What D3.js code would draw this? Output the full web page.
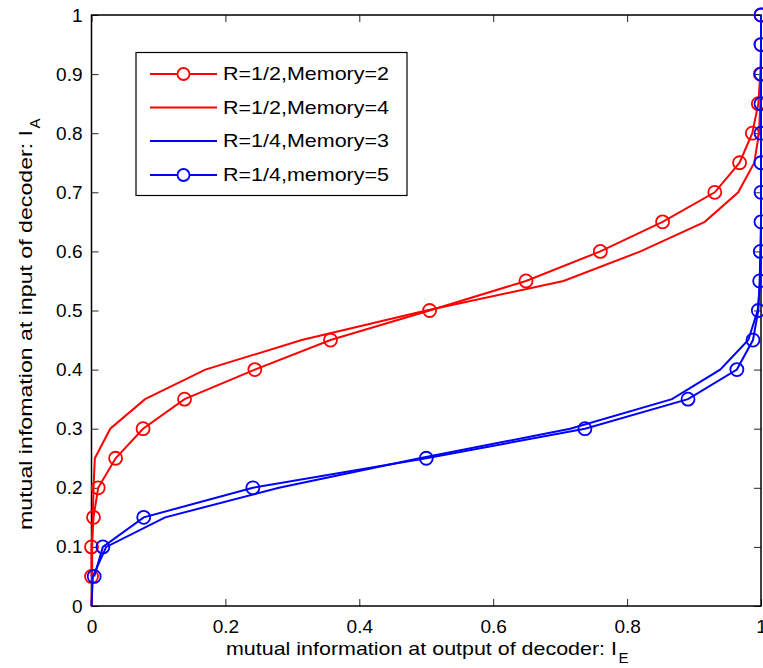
<!DOCTYPE html>
<html>
<head>
<meta charset="utf-8">
<script src="https://cdn.jsdelivr.net/npm/d3@7/dist/d3.min.js"></script>
<style>
  html, body { margin: 0; padding: 0; background: #fff; }
  svg text { font-family: "Liberation Sans", Arial, Helvetica, sans-serif; fill: #000; }
</style>
</head>
<body>
<svg id="chart" width="763" height="668"></svg>
<script>
// EXIT-chart transfer curves: a priori input I_A vs extrinsic output I_E

// input mutual information levels
const iaFull = [0, 0.05, 0.1, 0.15, 0.2, 0.25, 0.3, 0.35, 0.4, 0.45, 0.5,
                0.55, 0.6, 0.65, 0.7, 0.75, 0.8, 0.85, 0.9, 0.95, 1.0];
const iaFrom05 = iaFull.slice(1);

// R=1/2, Memory=2 (circles)
const ieR2M2 = [0.0, 0.0, 0.003, 0.010, 0.036, 0.077, 0.139, 0.244, 0.357, 0.505,
                0.649, 0.760, 0.853, 0.931, 0.968, 0.987, 0.996, 0.999, 1.0, 1.0];
// R=1/2, Memory=4
const ieR2M4 = [0, 0.001, 0.001, 0.002, 0.003, 0.005, 0.028, 0.080, 0.170, 0.314, 0.500,
                0.705, 0.820, 0.916, 0.966, 0.990, 0.997, 0.999, 1.0, 1.0, 1.0];
// R=1/4, Memory=3
const ieR4M3 = [0, 0.002, 0.022, 0.110, 0.280, 0.490, 0.715, 0.867, 0.939, 0.981, 0.995,
                0.999, 1.0, 1.0, 1.0, 1.0, 1.0, 1.0, 1.0, 1.0, 1.0];
// R=1/4, memory=5 (circles)
const ieR4M5 = [0.004, 0.017, 0.078, 0.241, 0.500, 0.737, 0.891, 0.964, 0.988, 0.996,
                0.998, 0.999, 1.0, 1.0, 1.0, 1.0, 1.0, 1.0, 1.0, 1.0];

const seriesNames = ["R=1/2,Memory=2", "R=1/2,Memory=4", "R=1/4,Memory=3", "R=1/4,memory=5"];
const seriesColors = ["#ff0000", "#ff0000", "#0000ff", "#0000ff"];
const seriesMarkers = [true, false, false, true];

const xTicks = [0, 0.2, 0.4, 0.6, 0.8, 1];
const yTicks = [0, 0.1, 0.2, 0.3, 0.4, 0.5, 0.6, 0.7, 0.8, 0.9, 1];

const series = [
  { name: seriesNames[0], color: seriesColors[0], marker: seriesMarkers[0],
    pts: iaFrom05.map((a, i) => [ieR2M2[i], a]) },
  { name: seriesNames[1], color: seriesColors[1], marker: seriesMarkers[1],
    pts: iaFull.map((a, i) => [ieR2M4[i], a]) },
  { name: seriesNames[2], color: seriesColors[2], marker: seriesMarkers[2],
    pts: iaFull.map((a, i) => [ieR4M3[i], a]) },
  { name: seriesNames[3], color: seriesColors[3], marker: seriesMarkers[3],
    pts: iaFrom05.map((a, i) => [ieR4M5[i], a]) }
];

const svg = d3.select("#chart");
const plotL = 91.5, plotR = 761, plotT = 15, plotB = 606;
const x = d3.scaleLinear().domain([0, 1]).range([plotL, plotR]);
const y = d3.scaleLinear().domain([0, 1]).range([plotB, plotT]);

const fmt = d3.format("~g");
const tickLen = 7;

// axes with inward ticks on all four sides
const gx = svg.append("g").attr("transform", `translate(0,${plotB})`)
  .call(d3.axisBottom(x).tickValues(xTicks).tickFormat(fmt).tickSizeInner(-tickLen).tickSizeOuter(0).tickPadding(14));
const gxTop = svg.append("g").attr("transform", `translate(0,${plotT})`)
  .call(d3.axisTop(x).tickValues(xTicks).tickFormat("").tickSizeInner(-tickLen).tickSizeOuter(0));
const gy = svg.append("g").attr("transform", `translate(${plotL},0)`)
  .call(d3.axisLeft(y).tickValues(yTicks).tickFormat(fmt).tickSizeInner(-tickLen).tickSizeOuter(0).tickPadding(9));
const gyRight = svg.append("g").attr("transform", `translate(${plotR},0)`)
  .call(d3.axisRight(y).tickValues(yTicks).tickFormat("").tickSizeInner(-tickLen).tickSizeOuter(0));

[gx, gxTop, gy, gyRight].forEach(g => {
  g.select(".domain").remove();
  g.selectAll(".tick line").attr("stroke", "#262626").attr("stroke-width", 1);
  g.selectAll(".tick text").attr("font-size", 19).attr("font-family", "Liberation Sans, Arial, sans-serif");
});

// frame
svg.append("rect").attr("x", plotL).attr("y", plotT)
  .attr("width", plotR - plotL).attr("height", plotB - plotT)
  .attr("fill", "none").attr("stroke", "#000").attr("stroke-width", 1.5);

// curves
const line = d3.line().x(d => x(d[0])).y(d => y(d[1]));
series.forEach(s => {
  const g = svg.append("g");
  g.append("path").attr("d", line(s.pts))
    .attr("fill", "none").attr("stroke", s.color).attr("stroke-width", 2)
    .attr("stroke-linejoin", "miter");
  if (s.marker) {
    g.selectAll("circle").data(s.pts).join("circle")
      .attr("cx", d => x(d[0])).attr("cy", d => y(d[1])).attr("r", 6.5)
      .attr("fill", "none").attr("stroke", s.color).attr("stroke-width", 1.8);
  }
});

// axis titles (main text plus subscript)
const xTitleStart = 226, xTitleLen = 391;
svg.append("text").attr("x", xTitleStart).attr("y", 655)
  .attr("font-size", 19).attr("textLength", xTitleLen).attr("lengthAdjust", "spacingAndGlyphs")
  .text("mutual information at output of decoder: I");
svg.append("text").attr("x", xTitleStart + xTitleLen + 1.5).attr("y", 663)
  .attr("font-size", 15).text("E");

const yTitleStart = 530, yTitleLen = 400;
svg.append("text").attr("transform", `translate(32,${yTitleStart}) rotate(-90)`)
  .attr("font-size", 19).attr("textLength", yTitleLen).attr("lengthAdjust", "spacingAndGlyphs")
  .text("mutual infomation at input of decoder: I");
svg.append("text").attr("transform", `translate(40,${yTitleStart - yTitleLen - 1.5}) rotate(-90)`)
  .attr("font-size", 15).text("A");

// legend
const lg = svg.append("g");
lg.append("rect").attr("x", 136).attr("y", 52.5).attr("width", 271).attr("height", 143)
  .attr("fill", "#fff").attr("stroke", "#000").attr("stroke-width", 1.2);
const rowY = [74, 107.5, 141, 175];
series.forEach((s, i) => {
  const r = lg.append("g").attr("transform", `translate(0,${rowY[i]})`);
  r.append("line").attr("x1", 150).attr("x2", 217).attr("y1", 0).attr("y2", 0)
    .attr("stroke", s.color).attr("stroke-width", 2);
  if (s.marker) {
    r.append("circle").attr("cx", 183.5).attr("cy", 0).attr("r", 6)
      .attr("fill", "#fff").attr("stroke", s.color).attr("stroke-width", 1.8);
  }
  r.append("text").attr("x", 223).attr("y", 0).attr("dy", "0.35em")
    .attr("font-size", 18.5).attr("textLength", 166).attr("lengthAdjust", "spacingAndGlyphs")
    .text(s.name);
});
</script>
</body>
</html>
